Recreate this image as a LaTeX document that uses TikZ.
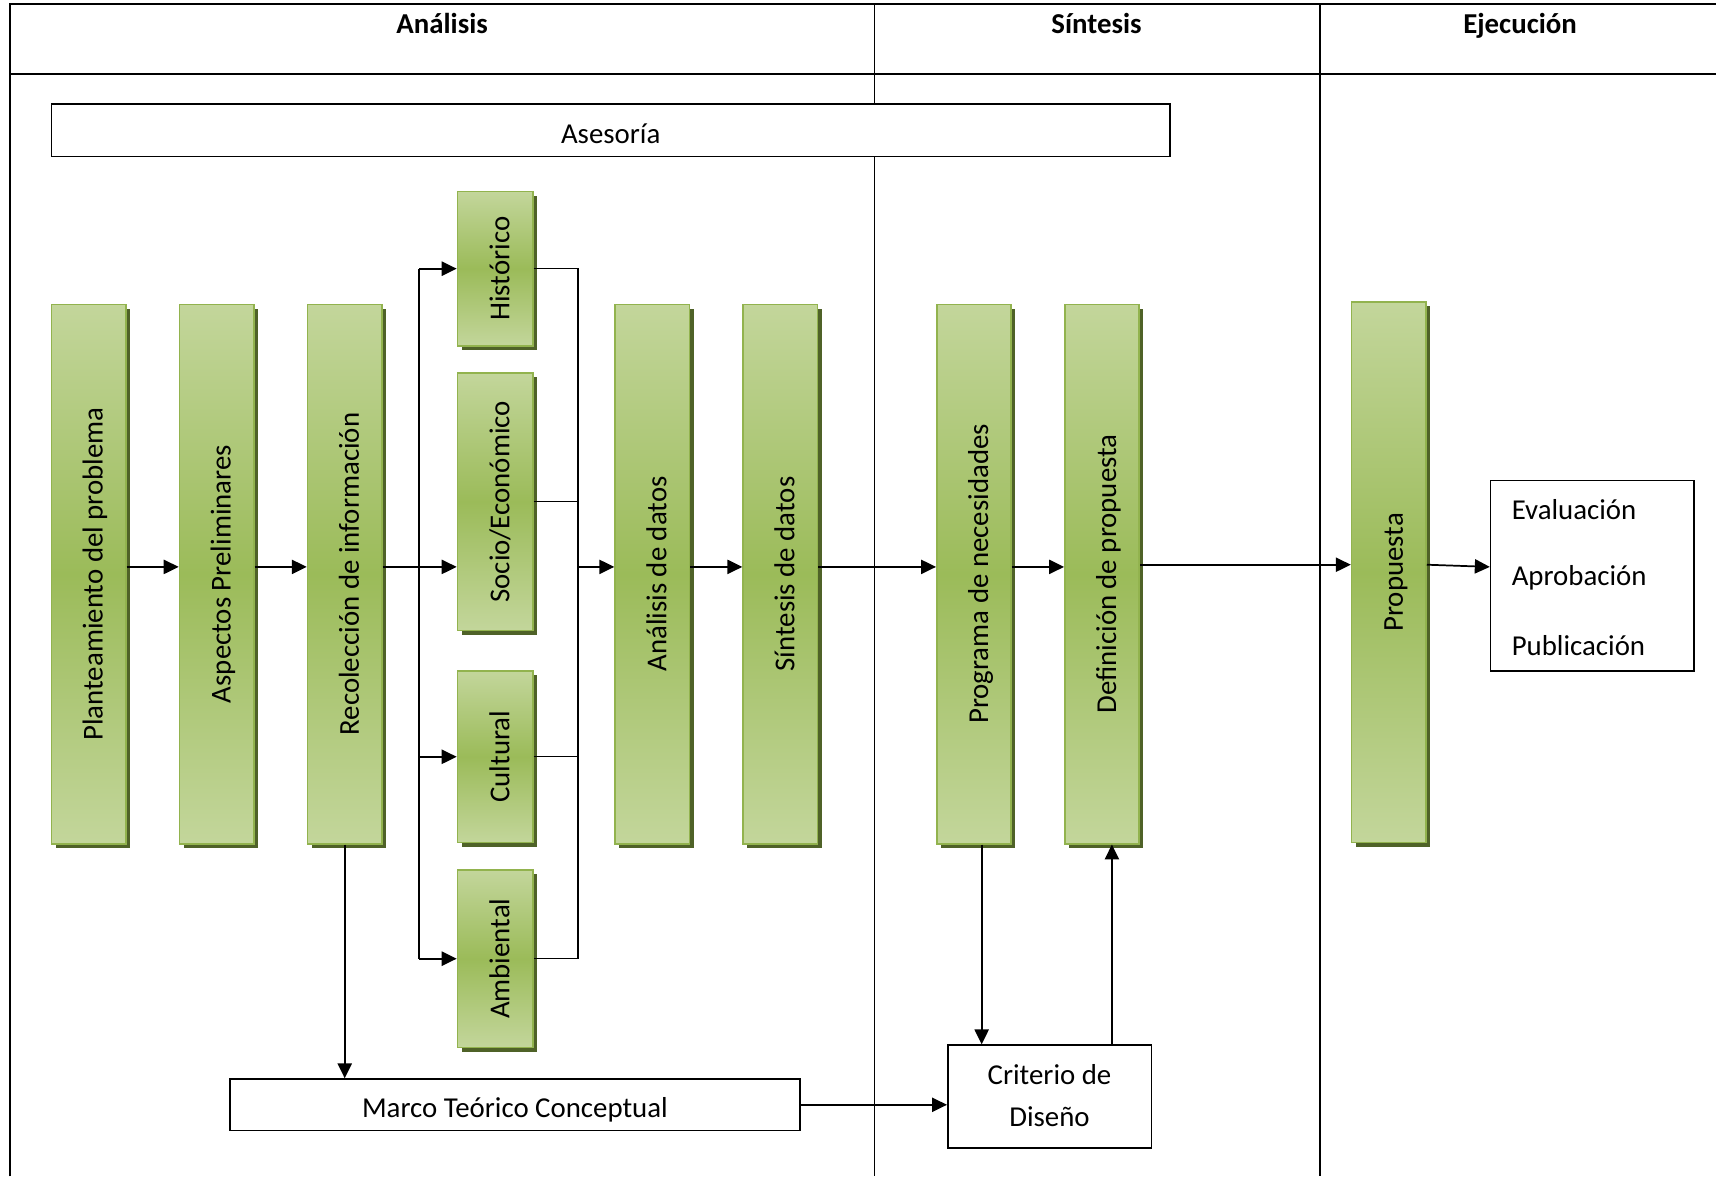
\documentclass[tikz,border=0pt]{standalone}
\usepackage{graphicx}
\usepackage{fontspec}
\setmainfont{Carlito}
\usetikzlibrary{shadows,arrows.meta,calc}
\definecolor{gl}{HTML}{C3D69B}
\definecolor{gm}{HTML}{9BBB59}
\definecolor{gb}{HTML}{92B34E}
\definecolor{gs}{HTML}{4F6228}
\newcommand{\vtext}[1]{\rotatebox{90}{\raisebox{0pt}[17.6pt][3pt]{#1}}}
\begin{document}
\begin{tikzpicture}[x=0.02cm,y=-0.02cm,
  txt/.style={font=\fontsize{15}{18}\selectfont},
  hdr/.style={font=\fontsize{15}{18}\selectfont\bfseries,anchor=base,inner sep=0pt},
  gbox/.style={txt,draw=gb,line width=0.8pt,top color=gl,bottom color=gl,middle color=gm,
     drop shadow={shadow xshift=2.2pt,shadow yshift=-2.2pt,fill=gs,opacity=1},
     minimum width=1.36cm,inner sep=0pt},
  wbox/.style={txt,draw=black,fill=white,line width=0.8pt,inner sep=0pt},
  arr/.style={line width=0.9pt,-{Triangle[length=7.8pt,width=7.4pt]}},
  ln/.style={line width=0.7pt},
  frame/.style={line width=1pt}]
\useasboundingbox (0,0) rectangle (1568,1075);
% frame
\draw[frame] (9,1075) -- (9,4) -- (1568,4);
\draw[frame] (9,68) -- (1568,68);
\draw[ln] (799,4) -- (799,1075);
\draw[ln] (1206,4) -- (1206,1075);
\node[hdr] (h1) at (404,31) {Análisis};
\node[hdr] (h2) at (1002,31) {Síntesis};
\node[hdr] (h3) at (1389,31) {Ejecución};
% asesoria
\node[wbox,minimum width=20.44cm,minimum height=0.96cm] (as) at (558,119) {};
\node[txt] (ast) at (558,122) {Asesoría};
% main boxes
\node[gbox,minimum height=9.86cm] (p1) at (81,524.5) {\vtext{Planteamiento del problema}};
\node[gbox,minimum height=9.86cm] (p2) at (198,524.5) {\vtext{Aspectos Preliminares}};
\node[gbox,minimum height=9.86cm] (p3) at (315,524.5) {\vtext{Recolección de información}};
\node[gbox,minimum height=2.82cm,minimum width=1.38cm] (hi) at (452.5,245.5) {\vtext{Histórico}};
\node[gbox,minimum height=4.70cm,minimum width=1.38cm] (so) at (452.5,458.5) {\vtext{Socio/Económico}};
\node[gbox,minimum height=3.14cm,minimum width=1.38cm] (cu) at (452.5,691.5) {\vtext{Cultural}};
\node[gbox,minimum height=3.24cm,minimum width=1.38cm] (am) at (452.5,876) {\vtext{Ambiental}};
\node[gbox,minimum height=9.86cm] (an) at (596,524.5) {\vtext{Análisis de datos}};
\node[gbox,minimum height=9.86cm] (si) at (713,524.5) {\vtext{Síntesis de datos}};
\node[gbox,minimum height=9.86cm] (pr) at (890,524.5) {\vtext{Programa de necesidades}};
\node[gbox,minimum height=9.86cm] (de) at (1007,524.5) {\vtext{Definición de propuesta}};
\node[gbox,minimum height=9.88cm] (prop) at (1269,523) {\vtext{Propuesta}};
% eval box
\node[wbox,minimum width=3.72cm,minimum height=3.48cm] (ev) at (1455,526) {};
\node[txt,anchor=west,inner sep=0pt] (e1) at (1381,466) {Evaluación};
\node[txt,anchor=west,inner sep=0pt] (e2) at (1381,528) {Aprobación};
\node[txt,anchor=west,inner sep=0pt] (e3) at (1381,590) {Publicación};
% bottom boxes
\node[wbox,minimum width=10.42cm,minimum height=0.94cm] (mt) at (470.5,1009.5) {};
\node[txt] (mtt) at (470.5,1014) {Marco Teórico Conceptual};
\node[wbox,minimum width=3.72cm,minimum height=1.88cm] (cd) at (959,1002) {};
\node[txt] (c1) at (959,982) {Criterio de};
\node[txt] (c2) at (959,1020) {Diseño};
% coordinates
\coordinate (r) at (0,518);
\coordinate (r2) at (0,516);
\coordinate (L) at (383,0);
\coordinate (R) at (528,0);
% connectors
\draw[arr] (p1.east|-r) -- (p2.west|-r);
\draw[arr] (p2.east|-r) -- (p3.west|-r);
\draw[arr] (p3.east|-r) -- (so.west|-r);
\draw[line width=0.9pt] (L|-hi.west) -- (L|-am.west);
\draw[arr] (L|-hi.west) -- (hi.west);
\draw[arr] (L|-cu.west) -- (cu.west);
\draw[arr] (L|-am.west) -- (am.west);
\draw[ln] (hi.east) -- (R|-hi.east) -- (R|-am.east) -- (am.east);
\draw[ln] (so.east) -- (R|-so.east);
\draw[ln] (cu.east) -- (R|-cu.east);
\draw[arr] (R|-r) -- (an.west|-r);
\draw[arr] (an.east|-r) -- (si.west|-r);
\draw[arr] (si.east|-r) -- (pr.west|-r);
\draw[arr] (pr.east|-r) -- (de.west|-r);
\draw[arr] (de.east|-r2) -- (prop.west|-r2);
\draw[arr] (prop.east|-r2) -- (ev.west|-r);
\draw[arr] (p3.south) -- (p3.south|-mt.north);
\draw[arr] (mt.east) -- (cd.west|-mt.east);
\coordinate (pd) at ($(pr.south)+(7,0)$);
\coordinate (du) at ($(de.south)+(9,0)$);
\draw[arr] (pd) -- (pd|-cd.north);
\draw[arr] (du|-cd.north) -- (du);
\end{tikzpicture}
\end{document}
